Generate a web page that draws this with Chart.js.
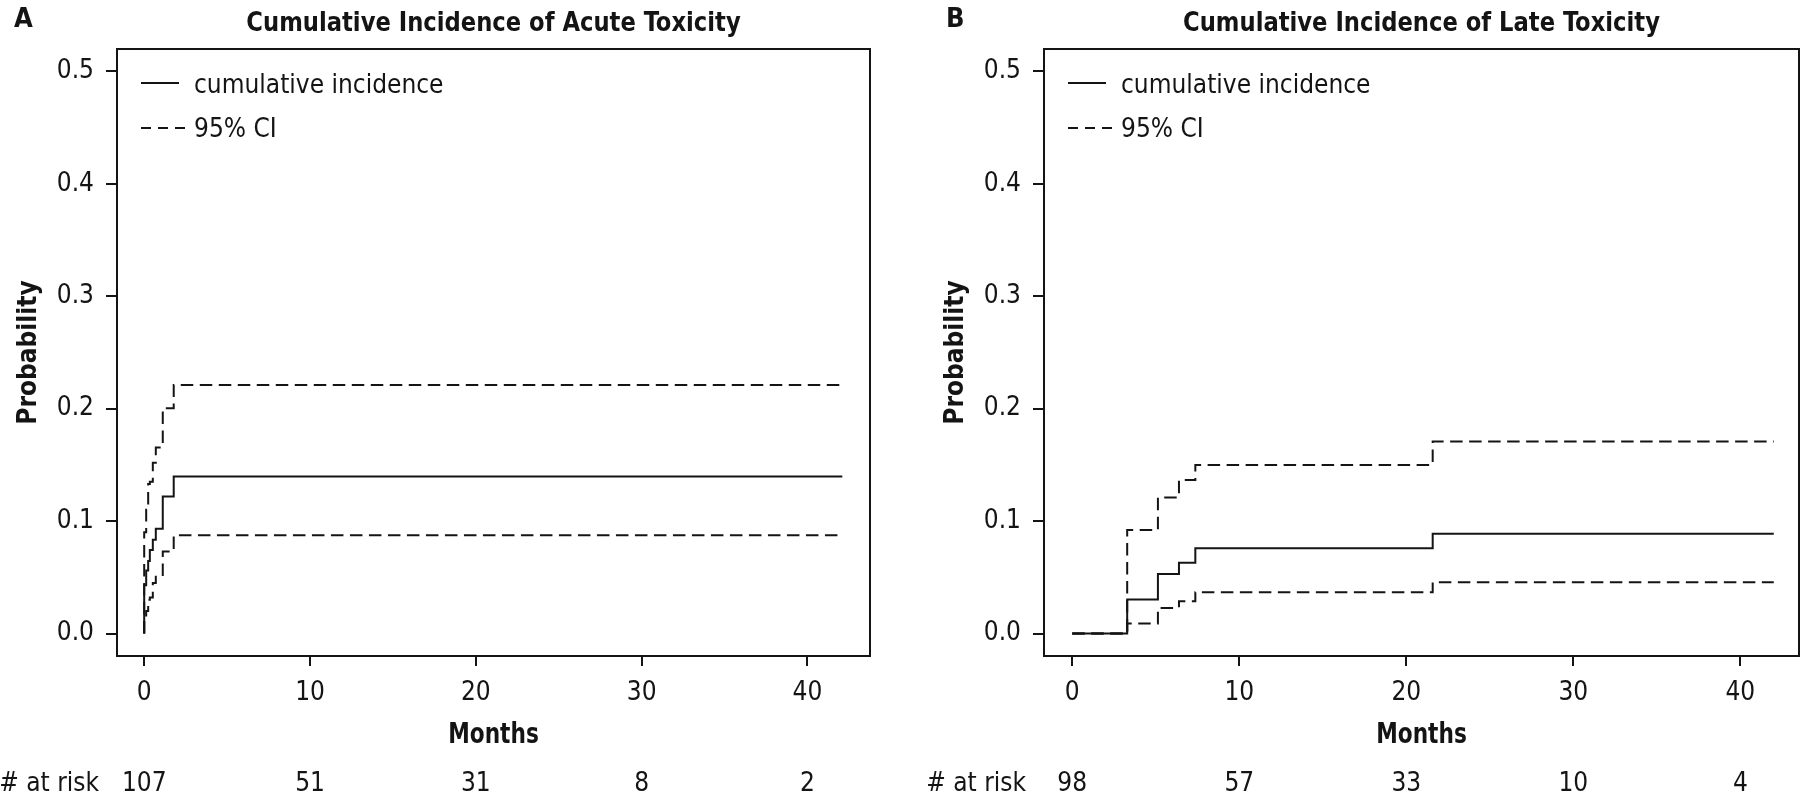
<!DOCTYPE html>
<html><head><meta charset="utf-8">
<script src="https://cdn.jsdelivr.net/npm/chart.js@4.4.1/dist/chart.umd.min.js"></script>
<style>
html,body{margin:0;padding:0;background:#fff;}
#wrap{position:relative;width:1800px;height:799px;overflow:hidden;background:#fff;}
canvas{position:absolute;top:0;}
</style></head><body>
<div id="wrap">
<canvas id="cA" width="900" height="799" style="left:0"></canvas>
<canvas id="cB" width="900" height="799" style="left:900px"></canvas>
</div>
<script>
// ---- tick labels / categories ----
const xTicks = [0, 10, 20, 30, 40];
const yTicks = [0, 0.1, 0.2, 0.3, 0.4, 0.5];
const legendLabels = ['cumulative incidence', '95% CI'];

// ---- Panel A: acute toxicity ----
const acuteTime  = [0, 0,     0.12,  0.24,   0.34,   0.52,   0.70,   1.12,   1.78,   42.1];
const acuteInc   = [0, 0.043, 0.056, 0.0645, 0.0743, 0.0835, 0.0933, 0.1218, 0.1397, 0.1397];
const acuteUpper = [0, 0.09,  0.11,  0.133,  0.135,  0.152,  0.1655, 0.2005, 0.221,  0.221];
const acuteLower = [0, 0.012, 0.02,  0.03,   0.032,  0.045,  0.052,  0.073,  0.0874, 0.0874];
const acuteAtRisk = [107, 51, 31, 8, 2];

// ---- Panel B: late toxicity ----
const lateTime  = [0, 3.29,   5.13,   6.39,   7.37,   21.58,  42.0];
const lateInc   = [0, 0.0303, 0.053,  0.063,  0.0758, 0.0888, 0.0888];
const lateUpper = [0, 0.0921, 0.121,  0.1365, 0.150,  0.1709, 0.1709];
const lateLower = [0, 0.0089, 0.0228, 0.0288, 0.0368, 0.0457, 0.0457];
const lateAtRisk = [98, 57, 33, 10, 4];

const FONT = "'DejaVu Sans Condensed', 'Liberation Sans Narrow', 'DejaVu Sans', sans-serif";
const INK = '#141414';

function pts(t, v) { return t.map((x, i) => ({ x: x, y: v[i] })); }

// draw centered text, squeezed horizontally by factor sx
function squeezedText(ctx, text, x, y, sx) {
  ctx.save();
  ctx.translate(x, y);
  ctx.scale(sx, 1);
  ctx.textAlign = 'center';
  ctx.fillText(text, 0, 0);
  ctx.restore();
}

function makeChart(canvasId, p) {
  const ds = (label, vals, dash) => ({
    label: label, data: pts(p.time, vals), stepped: true, borderColor: INK,
    borderWidth: 2, borderDash: dash, pointRadius: 0, fill: false, tension: 0
  });
  const decor = {
    id: 'decor' + canvasId,
    afterDraw(chart) {
      const ctx = chart.ctx, a = chart.chartArea, x = chart.scales.x;
      const cx = (a.left + a.right) / 2;
      ctx.save();
      ctx.strokeStyle = INK; ctx.fillStyle = INK; ctx.lineWidth = 2; ctx.setLineDash([]);
      ctx.strokeRect(a.left, a.top, a.right - a.left, a.bottom - a.top);
      // panel letter + title
      ctx.textBaseline = 'alphabetic';
      ctx.font = 'bold 27px ' + FONT; ctx.textAlign = 'left';
      ctx.fillText(p.letter, p.letterX, 27);
      ctx.font = 'bold 26px ' + FONT;
      squeezedText(ctx, p.title, cx, 31, 0.97);
      // legend
      const lx = a.left + 24, ly1 = 83, ly2 = 128;
      ctx.beginPath(); ctx.moveTo(lx, ly1); ctx.lineTo(lx + 38, ly1); ctx.stroke();
      ctx.setLineDash([10, 7]);
      ctx.beginPath(); ctx.moveTo(lx, ly2); ctx.lineTo(lx + 44, ly2); ctx.stroke();
      ctx.setLineDash([]);
      ctx.font = '26px ' + FONT; ctx.textAlign = 'left';
      ctx.fillText(legendLabels[0], a.left + 77, ly1 + 10);
      ctx.fillText(legendLabels[1], a.left + 77, ly2 + 9);
      // axis titles
      ctx.textBaseline = 'middle';
      ctx.font = 'bold 28px ' + FONT;
      squeezedText(ctx, 'Months', cx, 736, 0.86);
      ctx.font = 'bold 26px ' + FONT;
      ctx.save();
      ctx.translate(a.left - 88, (a.top + a.bottom) / 2);
      ctx.rotate(-Math.PI / 2);
      ctx.textAlign = 'center';
      ctx.fillText('Probability', 0, 0);
      ctx.restore();
      // number at risk
      ctx.font = '26px ' + FONT; ctx.textAlign = 'right';
      ctx.fillText('# at risk', a.left - 18, 784);
      ctx.textAlign = 'center';
      p.risk.forEach((n, i) => ctx.fillText(String(n), x.getPixelForValue(xTicks[i]), 784));
      ctx.restore();
    }
  };
  const gridOpts = (len) => ({ drawOnChartArea: false, drawTicks: true, tickLength: len, tickWidth: 2, tickColor: INK, color: INK, lineWidth: 2 });
  return new Chart(document.getElementById(canvasId), {
    type: 'line',
    data: { datasets: [
      ds(legendLabels[0], p.inc, []),
      ds(legendLabels[1] + ' upper', p.upper, [12.5, 6.5]),
      ds(legendLabels[1] + ' lower', p.lower, [12.5, 6.5])
    ] },
    options: {
      responsive: false, animation: false, devicePixelRatio: 1,
      layout: { padding: { left: 0, top: 49, right: p.padRight, bottom: 0 } },
      plugins: { legend: { display: false }, tooltip: { enabled: false }, title: { display: false } },
      scales: {
        x: {
          type: 'linear', min: p.xMin, max: p.xMax,
          afterBuildTicks: s => { s.ticks = xTicks.map(v => ({ value: v })); },
          afterFit: s => { s.height = 143; },
          border: { display: false }, grid: gridOpts(10),
          ticks: { font: { family: FONT, size: 26 }, color: INK, padding: 12, maxRotation: 0, autoSkip: false,
                   callback: v => String(v) }
        },
        y: {
          type: 'linear', min: -0.02, max: 0.52,
          afterBuildTicks: s => { s.ticks = yTicks.map(v => ({ value: v })); },
          afterFit: s => { s.width = p.left; },
          border: { display: false }, grid: gridOpts(11),
          ticks: { font: { family: FONT, size: 26 }, color: INK, padding: 12, autoSkip: false,
                   callback: v => Number(v).toFixed(1) }
        }
      }
    },
    plugins: [decor]
  });
}

makeChart('cA', { time: acuteTime, inc: acuteInc, upper: acuteUpper, lower: acuteLower, risk: acuteAtRisk,
  letter: 'A', letterX: 14, title: 'Cumulative Incidence of Acute Toxicity',
  left: 117, padRight: 30, xMin: -1.64, xMax: 43.77 });
makeChart('cB', { time: lateTime, inc: lateInc, upper: lateUpper, lower: lateLower, risk: lateAtRisk,
  letter: 'B', letterX: 46, title: 'Cumulative Incidence of Late Toxicity',
  left: 144, padRight: 1, xMin: -1.69, xMax: 43.51 });
</script>
</body></html>
